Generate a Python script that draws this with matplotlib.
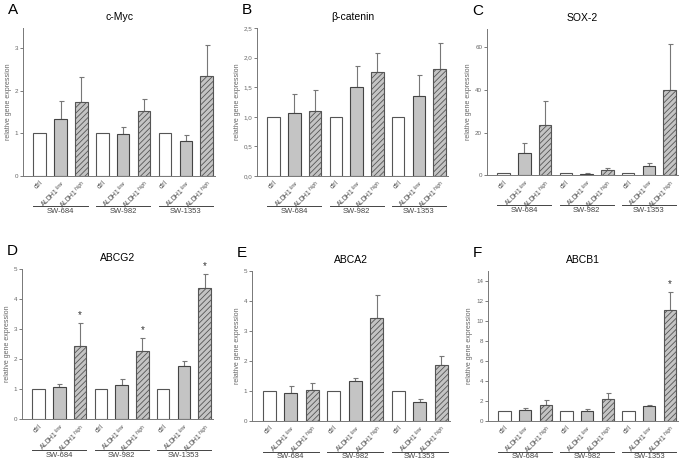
import numpy as np
import matplotlib.pyplot as plt

plt.rcParams['font.family'] = ['Liberation Sans', 'DejaVu Sans']
plt.rcParams['hatch.linewidth'] = 0.6

# data
groepen = ["SW-684", "SW-982", "SW-1353"]
soorten = ["ctrl", "ALDH1$^{\\,low}$", "ALDH1$^{\\,high}$"]

titels = ["c-Myc", "\u03b2-catenin", "SOX-2", "ABCG2", "ABCA2", "ABCB1"]
letters = ["A", "B", "C", "D", "E", "F"]

cmyc = [1, 1.33, 1.73, 1, 0.99, 1.52, 1, 0.82, 2.35]
cmyc_err = [0, 0.42, 0.59, 0, 0.17, 0.28, 0, 0.14, 0.72]

bcat = [1, 1.06, 1.09, 1, 1.51, 1.75, 1, 1.35, 1.81]
bcat_err = [0, 0.33, 0.36, 0, 0.34, 0.32, 0, 0.36, 0.44]

sox2 = [1, 10.5, 23.7, 1, 0.8, 2.5, 1, 4.4, 40.0]
sox2_err = [0, 4.7, 11.1, 0, 0.2, 0.8, 0, 1.6, 21.8]

abcg2 = [1, 1.08, 2.43, 1, 1.13, 2.27, 1, 1.77, 4.37]
abcg2_err = [0, 0.09, 0.78, 0, 0.20, 0.45, 0, 0.16, 0.48]
abcg2_ster = [2, 5, 8]

abca2 = [1, 0.93, 1.04, 1, 1.33, 3.42, 1, 0.63, 1.88]
abca2_err = [0, 0.24, 0.24, 0, 0.12, 0.78, 0, 0.12, 0.29]

abcb1 = [1, 1.1, 1.65, 1, 1.05, 2.25, 1, 1.5, 11.15]
abcb1_err = [0, 0.2, 0.45, 0, 0.15, 0.6, 0, 0.15, 1.8]
abcb1_ster = [8]

waarden = [cmyc, bcat, sox2, abcg2, abca2, abcb1]
fouten = [cmyc_err, bcat_err, sox2_err, abcg2_err, abca2_err, abcb1_err]
sterren = [[], [], [], abcg2_ster, [], abcb1_ster]

ylims = [3.47, 2.5, 68.6, 5, 5, 15]
yticks = [[0, 1, 2, 3], [0, 0.5, 1.0, 1.5, 2.0, 2.5], [0, 20, 40, 60],
          [0, 1, 2, 3, 4, 5], [0, 1, 2, 3, 4, 5], [0, 2, 4, 6, 8, 10, 12, 14]]

# pixel boxes (left, right, top, bottom)
W, H = 697, 463
boxen = [(23, 215, 28, 176), (257, 448, 28, 176), (487, 678, 29, 175.3),
         (22, 213, 269, 419.3), (252, 450, 271, 421), (488, 678, 271, 421)]

fig = plt.figure(figsize=(W / 100, H / 100), dpi=100)

grijs = '#666666'
x = np.arange(9)

for i in range(6):
    l, r, t, b = boxen[i]
    ax = fig.add_axes([l / W, 1 - b / H, (r - l) / W, (b - t) / H])

    for j in range(9):
        k = j % 3
        if k == 0:
            ax.bar(x[j], waarden[i][j], 0.6, color='white', edgecolor='#555555', linewidth=0.8, zorder=2)
        elif k == 1:
            ax.bar(x[j], waarden[i][j], 0.6, color='#c4c4c4', edgecolor='#444444', linewidth=0.8, zorder=2)
        else:
            ax.bar(x[j], waarden[i][j], 0.6, color='#c4c4c4', edgecolor='#555555', linewidth=0.8,
                   hatch='//////', zorder=2)
        if fouten[i][j] > 0:
            ax.errorbar(x[j], waarden[i][j], yerr=[[0], [fouten[i][j]]], color='#777777',
                        elinewidth=0.8, capsize=1.8, capthick=0.8, zorder=1)

    for j in sterren[i]:
        y_ster = waarden[i][j] + fouten[i][j] + ylims[i] * 0.015
        ax.text(x[j], y_ster, "*", ha='center', va='bottom', fontsize=7, color='#333333')

    ax.set_xlim(-0.8, 8.4)
    ax.set_ylim(0, ylims[i])
    ax.set_yticks(yticks[i])
    if i == 1:
        ax.set_yticklabels(["{:.1f}".format(v).replace('.', ',') for v in yticks[i]])
    ax.tick_params(axis='y', labelsize=4.5, colors=grijs, length=2, width=0.6, pad=1.5)
    ax.set_xticks(x)
    ax.set_xticklabels(soorten * 3, rotation=45, ha='right', rotation_mode='anchor',
                       fontsize=4.8, color='#444444')
    ax.tick_params(axis='x', length=0, pad=2.5)
    ax.spines['top'].set_visible(False)
    ax.spines['right'].set_visible(False)
    ax.spines['left'].set_color('#777777')
    ax.spines['bottom'].set_color('#777777')
    ax.spines['left'].set_linewidth(0.7)
    ax.spines['bottom'].set_linewidth(0.7)
    ax.set_ylabel("relative gene expression", fontsize=5, color=grijs, labelpad=2)

    # groepslijnen onder de labels
    trans = ax.get_xaxis_transform()
    for g in range(3):
        ax.plot([3 * g - 0.3, 3 * g + 2.3], [-0.205, -0.205], transform=trans,
                color='#444444', linewidth=0.7, clip_on=False)
        ax.text(3 * g + 1, -0.215, groepen[g], transform=trans, ha='center', va='top',
                fontsize=5.5, color='#444444')

    fig.text((l + r) / 2 / W, 1 - (t - 11) / H, titels[i], ha='center', va='center', fontsize=7.5)
    fig.text((l - 15) / W, 1 - (t - 18) / H, letters[i], ha='left', va='center', fontsize=11)

plt.savefig("out.png", dpi=100)
